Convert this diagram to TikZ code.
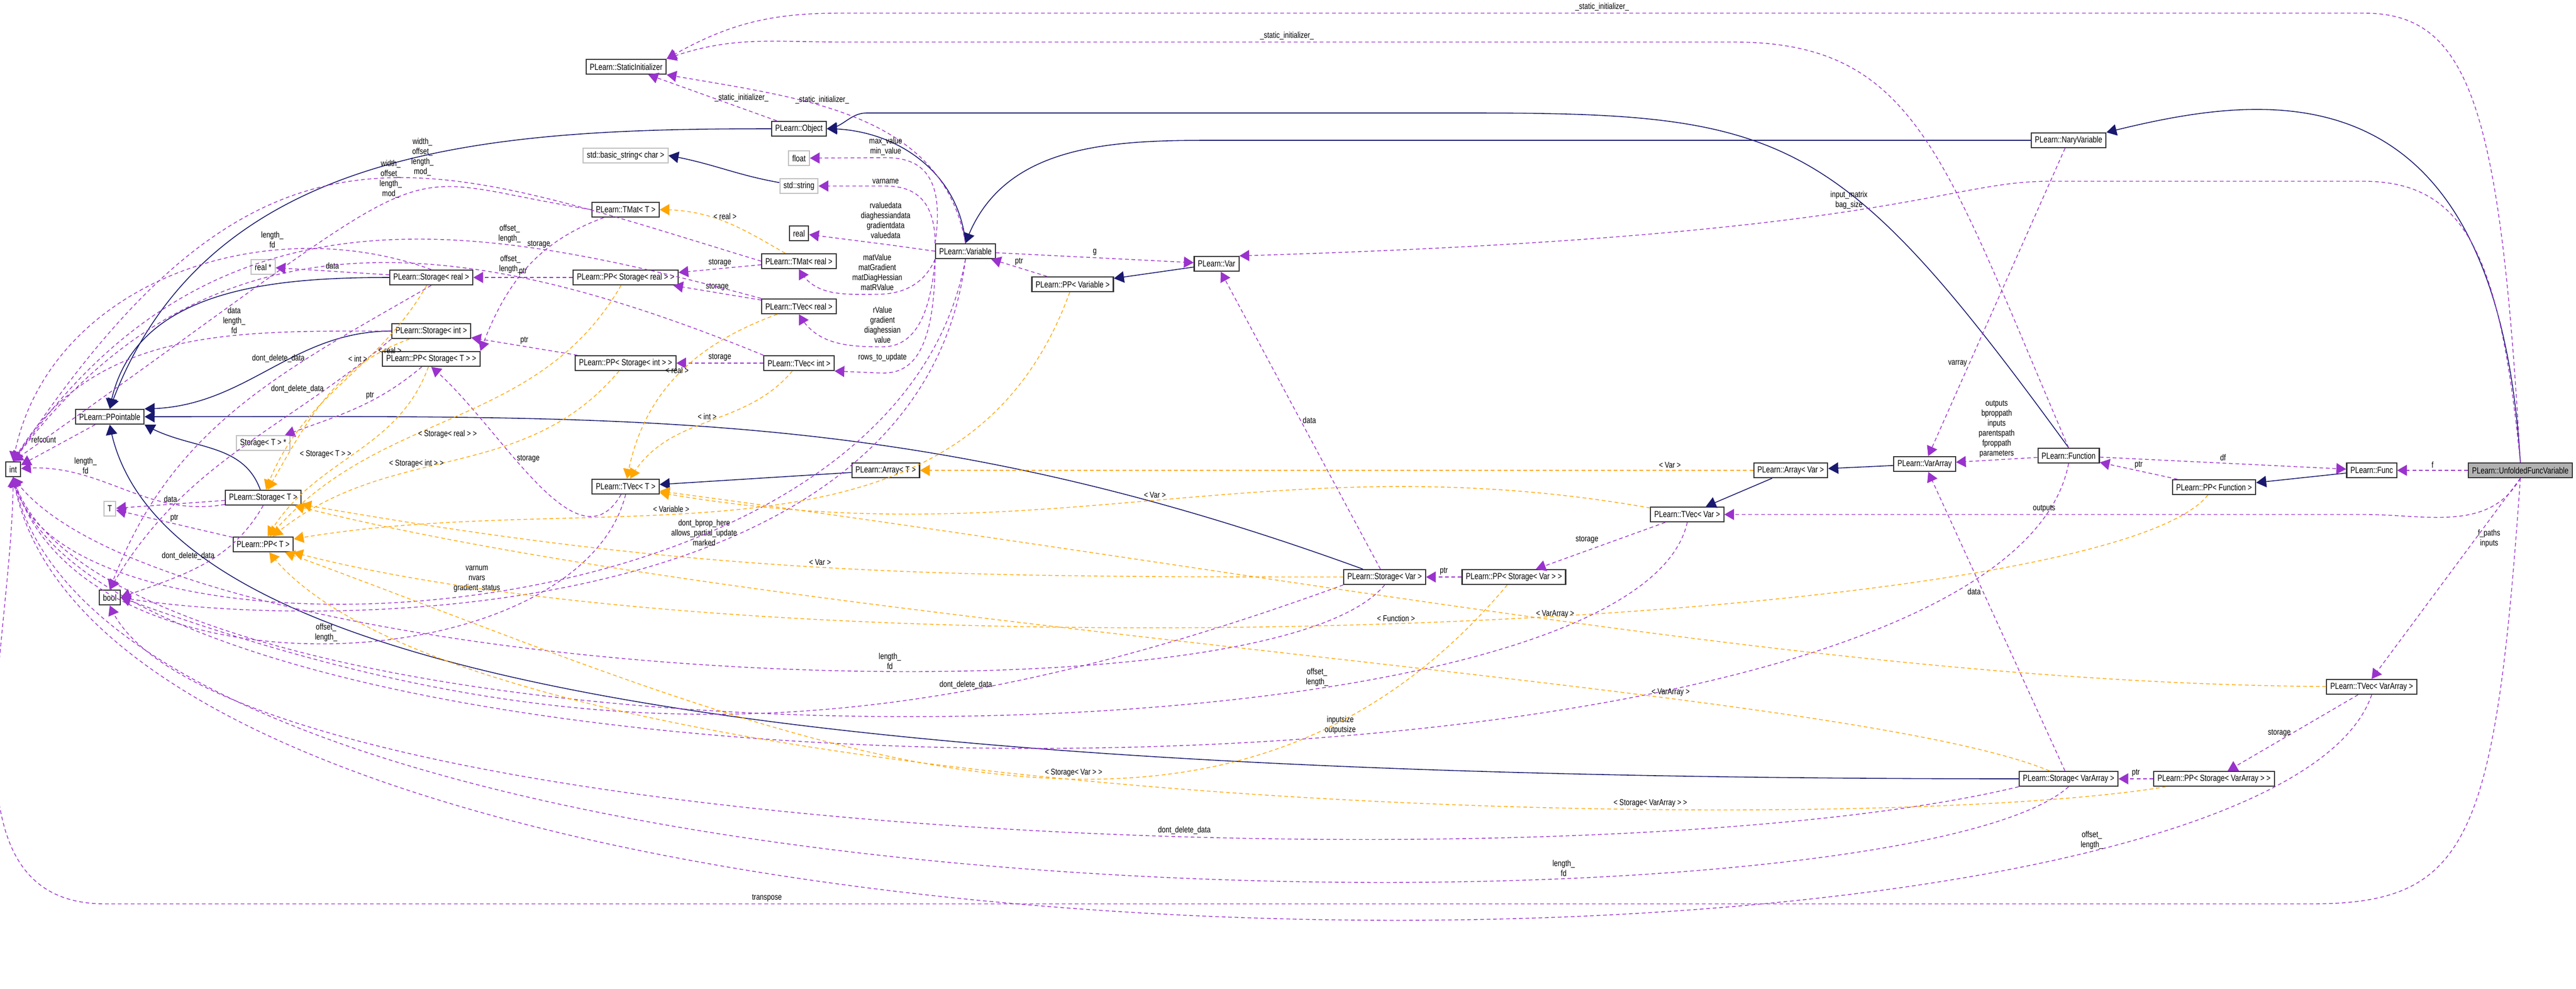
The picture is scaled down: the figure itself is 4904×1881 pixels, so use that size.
\documentclass[tikz,border=0pt]{standalone}
\usepackage{fontspec}
\setmainfont{Liberation Sans}[FakeStretch=0.8]
\usetikzlibrary{arrows}

\definecolor{inhblue}{HTML}{191970}
\definecolor{usepurple}{HTML}{9A32CD}
\definecolor{tplorange}{HTML}{FFA500}

\tikzset{
  cls/.style={draw=black!80,fill=white,line width=0.6pt,inner xsep=2pt,inner ysep=0pt,minimum height=8pt,font=\fontsize{4.8}{5}\selectfont},
  ext/.style={cls,draw=black!25},
  inh/.style={draw=inhblue,line width=0.45pt,-triangle 60},
  use/.style={draw=usepurple,line width=0.4pt,dash pattern=on 2pt off 1.5pt,-triangle 60},
  tpl/.style={draw=tplorange,line width=0.4pt,dash pattern=on 2pt off 1.5pt,-triangle 60},
  lbl/.style={font=\fontsize{4.6}{5.4}\selectfont,align=center,text=black,inner sep=1pt}
}

\begin{document}
\begin{tikzpicture}[x=0.01cm,y=-0.01cm]
    \path[use as bounding box] (0,0) rectangle (4904,1881);
    % Classes.
    \node[cls] (si) at (1192,127) {PLearn::StaticInitializer};
    \node[cls] (int) at (25,893) {int};
    \node[cls] (ppt) at (209,793) {PLearn::PPointable};
    \node[ext] (realp) at (501,508) {real *};
    \node[cls] (storreal) at (821,528) {PLearn::Storage< real >};
    \node[cls] (storint) at (821,630) {PLearn::Storage< int >};
    \node[cls] (ppstorT) at (821,683) {PLearn::PP< Storage< T > >};
    \node[ext] (storTp) at (501,843) {Storage< T > *};
    \node[cls] (tmatT) at (1191,399) {PLearn::TMat< T >};
    \node[ext] (bstr) at (1191,296) {std::basic\_string< char >};
    \node[cls] (ppstorreal) at (1191,528) {PLearn::PP< Storage< real > >};
    \node[cls] (ppstorint) at (1191,691) {PLearn::PP< Storage< int > >};
    \node[cls] (tvecT) at (1191,926) {PLearn::TVec< T >};
    \node[cls] (storT) at (501,947) {PLearn::Storage< T >};
    \node[ext] (tT) at (209,968) {T};
    \node[cls] (ppT) at (501,1036) {PLearn::PP< T >};
    \node[cls] (bool) at (209,1137) {bool};
    \node[cls] (obj) at (1521,245) {PLearn::Object};
    \node[ext] (float) at (1521,301) {float};
    \node[ext] (str) at (1521,354) {std::string};
    \node[cls] (real) at (1521,444) {real};
    \node[cls] (tmatreal) at (1521,497) {PLearn::TMat< real >};
    \node[cls] (tvecreal) at (1521,583) {PLearn::TVec< real >};
    \node[cls] (tvecint) at (1521,691) {PLearn::TVec< int >};
    \node[cls] (variable) at (1838,478) {PLearn::Variable};
    \node[cls] (ppvariable) at (2042,541) {PLearn::PP< Variable >};
    \node[cls] (var) at (2316,502) {PLearn::Var};
    \node[cls] (arrayT) at (1686,895) {PLearn::Array< T >};
    \node[cls] (nary) at (3938,267) {PLearn::NaryVariable};
    \node[cls] (vararray) at (3664,883) {PLearn::VarArray};
    \node[cls] (arrayvar) at (3409,895) {PLearn::Array< Var >};
    \node[cls] (function) at (3938,867) {PLearn::Function};
    \node[cls] (func) at (4515,895) {PLearn::Func};
    \node[cls] (ppfunction) at (4215,927) {PLearn::PP< Function >};
    \node[cls,fill=black!30] (ufv) at (4798,895) {PLearn::UnfoldedFuncVariable};
    \node[cls] (tvecvar) at (3212,979) {PLearn::TVec< Var >};
    \node[cls] (storvar) at (2636,1098) {PLearn::Storage< Var >};
    \node[cls] (ppstorvar) at (2882,1098) {PLearn::PP< Storage< Var > >};
    \node[cls] (tvecva) at (4515,1307) {PLearn::TVec< VarArray >};
    \node[cls] (storva) at (3938,1482) {PLearn::Storage< VarArray >};
    \node[cls] (ppstorva) at (4215,1482) {PLearn::PP< Storage< VarArray > >};
    % Inheritance.
    \draw[inh] (storreal) to[out=180,in=80] (ppt.north);
    \draw[inh] (storint) to[out=180,in=0] (ppt.north east);
    \draw[inh] (storT) to[out=110,in=-30] (ppt.south east);
    \draw[inh] (obj.west) to[out=180,in=70] (ppt.north);
    \draw[inh] (storvar) to[out=160,in=0] (ppt.east);
    \draw[inh] (storva.west) .. controls (1500,1482) and (300,1300) .. (ppt.south);
    \draw[inh] (variable.north) to[out=95,in=0] (obj.east);
    \draw[inh] (nary.west) -- (2300,267) to[out=180,in=70] (variable.north);
    \draw[inh] (function.north) .. controls (3500,250) and (3400,215) .. (2800,215) -- (1650,215) to[out=180,in=5] (obj.east);
    \draw[inh] (ufv.north) .. controls (4750,100) and (4300,180) .. (nary.north east);
    \draw[inh] (str) to[out=170,in=-10] (bstr.east);
    \draw[inh] (var) -- (ppvariable);
    \draw[inh] (func) -- (ppfunction);
    \draw[inh] (arrayT) -- (tvecT);
    \draw[inh] (arrayvar) -- (tvecvar);
    \draw[inh] (vararray) -- (arrayvar);
    % Members of the storages.
    \draw[use] (ppt) -- node[lbl,above left]{refcount} (int);
    \draw[use] (storreal) -- node[lbl,above]{data} (realp);
    \draw[use] (storreal.north) to[out=160,in=80] node[lbl,above,pos=0.3]{length\_\\fd} (int.north);
    \draw[use] (storreal.south) to[out=210,in=70] node[lbl,left,pos=0.3]{dont\_delete\_data} (bool.north);
    \draw[use] (ppstorreal) -- node[lbl,above]{ptr} (storreal);
    \draw[use] (storint.west) to[out=180,in=60] node[lbl,above,pos=0.35]{data\\length\_\\fd} (int.north);
    \draw[use] (storint.south west) to[out=220,in=60] node[lbl,left,pos=0.2]{dont\_delete\_data} (bool.north);
    \draw[use] (ppstorint) -- node[lbl,above]{ptr} (storint);
    \draw[use] (ppstorT) to[out=220,in=20] node[lbl,above,pos=0.4]{ptr} (storTp);
    \draw[use] (storT) -- node[lbl,above]{data} (tT);
    \draw[use] (storT) to[out=190,in=5] node[lbl,above,pos=0.7]{length\_\\fd} (int);
    \draw[use] (storT.south) to[out=240,in=20] node[lbl,left,pos=0.4]{dont\_delete\_data} (bool.east);
    \draw[use] (ppT) -- node[lbl,above]{ptr} (tT);
    \draw[use] (storvar.south west) to[out=200,in=-20] node[lbl,above,pos=0.3]{dont\_delete\_data} (bool.east);
    \draw[use] (storvar.south) .. controls (2400,1400) and (300,1300) .. node[lbl,above,pos=0.4]{length\_\\fd} (int.south);
    \draw[use] (ppstorvar) -- node[lbl,above]{ptr} (storvar);
    \draw[use] (storva.south west) .. controls (3000,1700) and (400,1600) .. node[lbl,above,pos=0.4]{dont\_delete\_data} (bool.south);
    \draw[use] (storva.south) .. controls (3600,1800) and (200,1800) .. node[lbl,above,pos=0.3]{length\_\\fd} (int.south);
    \draw[use] (ppstorva) -- node[lbl,above]{ptr} (storva);
    % Members of the vectors and matrices.
    \draw[use] (tmatT.west) .. controls (700,330) and (900,260) .. node[lbl,above]{width\_\\offset\_\\length\_\\mod\_} (int.north);
    \draw[use] (tmatT) to[out=200,in=70] node[lbl,left,pos=0.3]{storage} (ppstorT.north east);
    \draw[use] (tmatreal.west) .. controls (800,300) and (500,160) .. node[lbl,above,pos=0.4]{width\_\\offset\_\\length\_\\mod\_} (int.north);
    \draw[use] (tmatreal) -- node[lbl,above]{storage} (ppstorreal);
    \draw[use] (tvecreal) -- node[lbl,above]{storage} (ppstorreal);
    \draw[use] (tvecreal.north west) .. controls (900,420) and (400,330) .. node[lbl,above,pos=0.3]{offset\_\\length\_} (int.north);
    \draw[use] (tvecint) -- node[lbl,above]{storage} (ppstorint);
    \draw[use] (tvecint.north west) .. controls (900,450) and (400,370) .. node[lbl,above,pos=0.3]{offset\_\\length\_} (int.north);
    \draw[use] (tvecT) to[out=240,in=-40] node[lbl,right,pos=0.6]{storage} (ppstorT.south);
    \draw[use] (tvecT.south) .. controls (1100,1300) and (150,1350) .. node[lbl,above,pos=0.5]{offset\_\\length\_} (int.south);
    \draw[use] (tvecvar.south) .. controls (3100,1500) and (200,1500) .. node[lbl,above,pos=0.3]{offset\_\\length\_} (int.south);
    \draw[use] (tvecvar) -- node[lbl,above left]{storage} (ppstorvar);
    \draw[use] (tvecva) -- node[lbl,left]{storage} (ppstorva);
    \draw[use] (tvecva.south) .. controls (4300,1950) and (200,1950) .. node[lbl,above,pos=0.2]{offset\_\\length\_} (int.south);
    % Members of the variables.
    \draw[use] (obj) -- node[lbl,right]{\_static\_initializer\_} (si);
    \draw[use] (variable.north) to[out=100,in=-10] node[lbl,above,pos=0.6]{\_static\_initializer\_} (si.south east);
    \draw[use] (variable.north west) .. controls (1800,330) and (1750,300) .. (1686,300) node[lbl,above]{max\_value\\min\_value} -- (float);
    \draw[use] (variable.north west) .. controls (1780,380) and (1740,354) .. (1686,354) node[lbl,above]{varname} -- (str);
    \draw[use] (variable.west) -- (1686,465) node[lbl,above=2pt]{rvaluedata\\diaghessiandata\\gradientdata\\valuedata} -- (real);
    \draw[use] (variable.south west) .. controls (1760,540) and (1720,560) .. (1670,560) node[lbl,above=1pt]{matValue\\matGradient\\matDiagHessian\\matRValue} to[out=180,in=-60] (tmatreal.south);
    \draw[use] (variable.south west) .. controls (1770,620) and (1730,660) .. (1680,660) node[lbl,above=1pt]{rValue\\gradient\\diaghessian\\value} to[out=180,in=-60] (tvecreal.south);
    \draw[use] (variable.south west) .. controls (1780,680) and (1730,710) .. (1680,710) node[lbl,above=5pt]{rows\_to\_update} -- (tvecint.south east);
    \draw[use] (variable.south) .. controls (1750,1200) and (600,1200) .. node[lbl,above,pos=0.4]{dont\_bprop\_here\\allows\_partial\_update\\marked} (bool.east);
    \draw[use] (variable.south) .. controls (1700,1250) and (100,1300) .. node[lbl,above,pos=0.5]{varnum\\nvars\\gradient\_status} (int.south);
    \draw[use] (variable) -- node[lbl,above]{g} (var);
    \draw[use] (ppvariable) -- node[lbl,above]{ptr} (variable);
    \draw[use] (storvar) -- node[lbl,right]{data} (var);
    \draw[use] (nary) -- node[lbl,left,pos=0.7]{varray} (vararray);
    \draw[use] (function.north) .. controls (3700,300) and (3650,80) .. (3300,80) -- node[lbl,above]{\_static\_initializer\_} (1600,80) to[out=180,in=20] (si.north east);
    \draw[use] (function) -- node[lbl,above]{outputs\\bproppath\\inputs\\parentspath\\fproppath\\parameters} (vararray);
    \draw[use] (function.south) .. controls (3800,1600) and (200,1600) .. node[lbl,above,pos=0.4]{inputsize\\outputsize} (int.south);
    \draw[use] (ppfunction) -- node[lbl,above]{ptr} (function);
    \draw[use] (function) -- node[lbl,above]{df} (func);
    \draw[use] (storva) -- node[lbl,left,pos=0.6]{data} (vararray);
    % Members of the unfolded variable.
    \draw[use] (ufv.north) .. controls (4760,200) and (4700,25) .. (4500,25) -- node[lbl,above]{\_static\_initializer\_} (1600,25) to[out=180,in=30] (si.north east);
    \draw[use] (ufv.north) .. controls (4760,500) and (4700,345) .. (4500,345) -- (3900,345) .. controls (3700,345) and (3600,450) .. node[lbl,above]{input\_matrix\\bag\_size} (var.north east);
    \draw[use] (ufv) -- node[lbl,above]{f} (func);
    \draw[use] (ufv.south) to[out=240,in=0] (4500,979) -- node[lbl,above]{outputs} (tvecvar.east);
    \draw[use] (ufv.south) -- node[lbl,right,pos=0.3]{f\_paths\\inputs} (tvecva.north);
    \draw[use] (ufv.south) .. controls (4750,1600) and (4700,1720) .. (4400,1720) -- node[lbl,above,pos=0.7]{transpose} (200,1720) to[out=180,in=270] (int.south);
    % Template instances.
    \draw[tpl] (storreal) to[out=240,in=70] node[lbl,right,pos=0.3]{< real >} (storT);
    \draw[tpl] (storint) to[out=200,in=60] node[lbl,left,pos=0.2]{< int >} (storT);
    \draw[tpl] (ppstorT) to[out=250,in=60] node[lbl,left]{< Storage< T > >} (ppT);
    \draw[tpl] (ppstorreal) to[out=240,in=50] node[lbl,right,pos=0.6]{< Storage< real > >} (ppT);
    \draw[tpl] (ppstorint) to[out=230,in=40] node[lbl,above,pos=0.6]{< Storage< int > >} (ppT);
    \draw[tpl] (tmatreal) to[out=150,in=0] node[lbl,above]{< real >} (tmatT);
    \draw[tpl] (tvecreal) to[out=200,in=80] node[lbl,above]{< real >} (tvecT);
    \draw[tpl] (tvecint) to[out=230,in=60] node[lbl,above]{< int >} (tvecT);
    \draw[tpl] (ppvariable) to[out=250,in=10] node[lbl,above,pos=0.6]{< Variable >} (ppT);
    \draw[tpl] (arrayvar) -- node[lbl,above,pos=0.1]{< Var >} (arrayT);
    \draw[tpl] (tvecvar) to[out=170,in=-10] node[lbl,above]{< Var >} (tvecT);
    \draw[tpl] (storvar) to[out=180,in=-10] node[lbl,above]{< Var >} (storT);
    \draw[tpl] (ppstorvar) to[out=230,in=-20] node[lbl,above,pos=0.4]{< Storage< Var > >} (ppT);
    \draw[tpl] (ppfunction) .. controls (4000,1200) and (1500,1300) .. node[lbl,above,pos=0.5]{< Function >} (ppT);
    \draw[tpl] (tvecva) .. controls (3500,1300) and (2500,1100) .. node[lbl,above,pos=0.5]{< VarArray >} (tvecT);
    \draw[tpl] (storva) .. controls (3500,1300) and (1500,1200) .. node[lbl,above,pos=0.3]{< VarArray >} (storT);
    \draw[tpl] (ppstorva) .. controls (3500,1600) and (900,1550) .. node[lbl,above,pos=0.3]{< Storage< VarArray > >} (ppT);
\end{tikzpicture}
\end{document}
